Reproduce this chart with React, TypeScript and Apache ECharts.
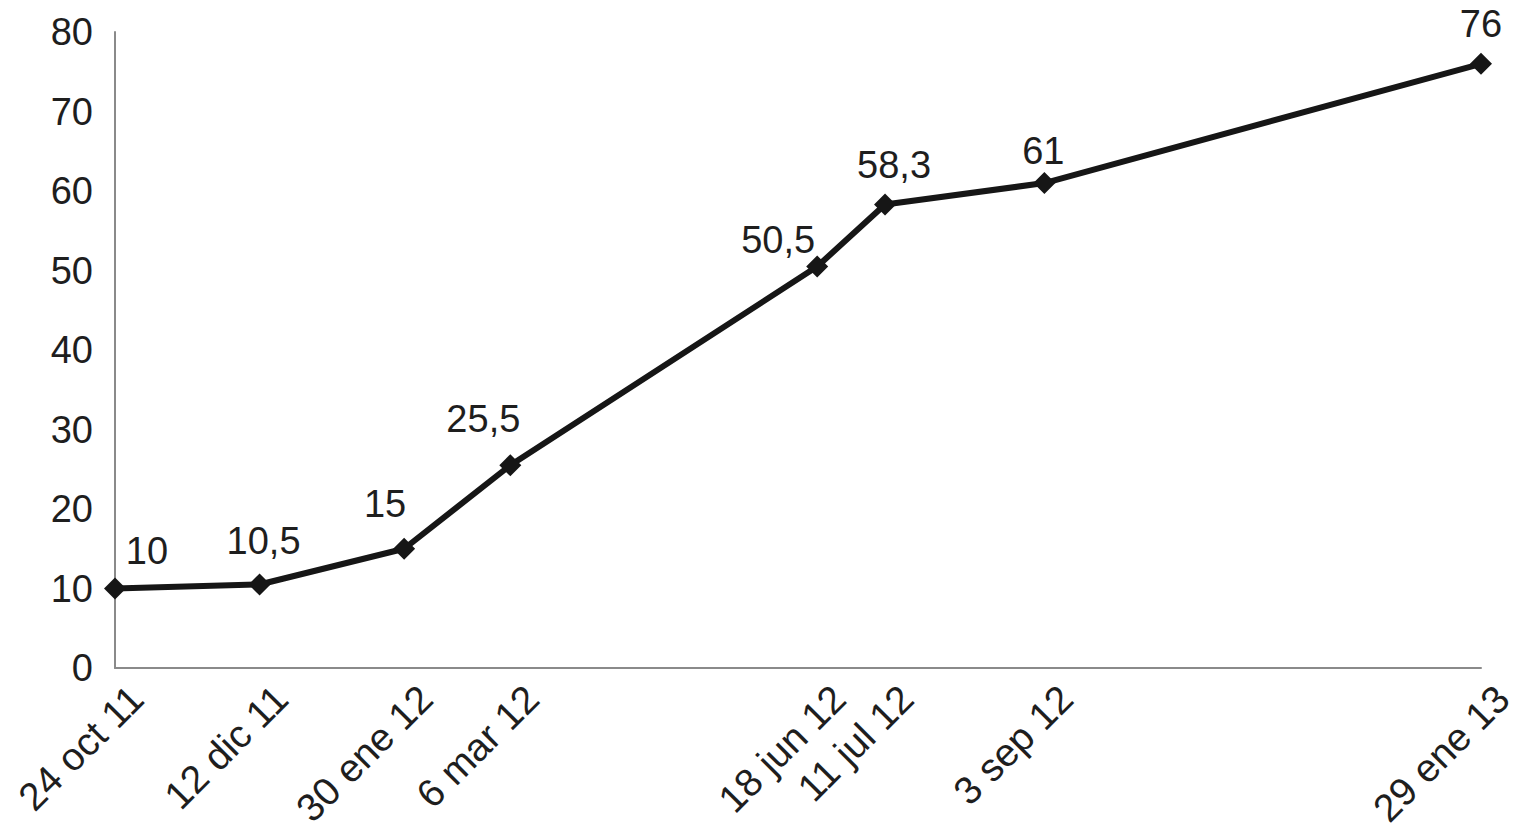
import React, { useEffect, useRef } from "react";
import * as echarts from "echarts";

const dates = ["2011-10-24", "2011-12-12", "2012-01-30", "2012-03-06", "2012-06-18", "2012-07-11", "2012-09-03", "2013-01-29"];
const dateLabels = ["24 oct 11", "12 dic 11", "30 ene 12", "6 mar 12", "18 jun 12", "11 jul 12", "3 sep 12", "29 ene 13"];
const values = [10, 10.5, 15, 25.5, 50.5, 58.3, 61, 76];
const yTicks = [0, 10, 20, 30, 40, 50, 60, 70, 80];
// label nudges (style only)
const labelOffsets = [[32, -4], [4, -10], [-19, -11], [-27, -12], [-39, 7], [9, -6], [-1, 2], [0, -6]];

const toTs = (d: string) => {
  const [y, m, dd] = d.split("-").map(Number);
  return Date.UTC(y, m - 1, dd);
};

export default function App() {
  const ref = useRef<HTMLDivElement>(null);
  useEffect(() => {
    if (!ref.current) return;
    const chart = echarts.init(ref.current, null, { renderer: "svg" });
    const ts = dates.map(toTs);
    const font = "'Liberation Sans', Arial, sans-serif";
    chart.setOption({
      animation: false,
      backgroundColor: "#fff",
      grid: { left: 115, right: 38, top: 32, bottom: 161, containLabel: false, outerBoundsMode: "none" },
      xAxis: {
        type: "value",
        min: ts[0],
        max: ts[ts.length - 1],
        splitLine: { show: false },
        axisLine: { show: true, lineStyle: { color: "#8a8a8a", width: 2 } },
        axisTick: { show: false },
        axisLabel: {
          customValues: ts,
          rotate: 45,
          margin: 18,
          verticalAlign: "top",
          padding: [0, -11, 0, 0],
          fontSize: 39,
          color: "#1e1e1e",
          fontFamily: font,
          formatter: (v: number) => {
            const i = ts.indexOf(v);
            return i >= 0 ? dateLabels[i] : "";
          },
        },
      },
      yAxis: {
        type: "value",
        min: yTicks[0],
        max: yTicks[yTicks.length - 1],
        interval: 10,
        splitLine: { show: false },
        axisLine: { show: true, lineStyle: { color: "#8a8a8a", width: 2 } },
        axisTick: { show: false },
        axisLabel: { fontSize: 38, color: "#1e1e1e", fontFamily: font, margin: 22 },
      },
      series: [
        {
          type: "line",
          data: ts.map((t, i) => ({
            value: [t, values[i]],
            label: { offset: labelOffsets[i] },
          })),
          symbol: "diamond",
          symbolSize: 22,
          lineStyle: { color: "#161616", width: 6 },
          itemStyle: { color: "#161616" },
          label: {
            show: true,
            position: "top",
            distance: 4,
            fontSize: 38,
            color: "#1e1e1e",
            fontFamily: font,
            formatter: (p: any) => String(p.value[1]).replace(".", ","),
          },
        },
      ],
    });
    return () => chart.dispose();
  }, []);
  return <div ref={ref} style={{ width: 1519, height: 829, position: "absolute", left: 0, top: 0 }} />;
}
